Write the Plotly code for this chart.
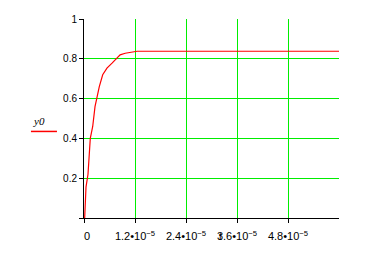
import plotly.graph_objects as go

# data
t = [0, 0.16e-6, 0.47e-6, 0.94e-6, 1.48e-6, 2.05e-6, 2.59e-6, 3.06e-6, 3.6e-6,
     4.4e-6, 5.4e-6, 6.6e-6, 7.6e-6, 8.5e-6, 9.7e-6, 1.11e-5, 1.25e-5, 6.0e-5]
y0 = [0, 0.0, 0.155, 0.22, 0.40, 0.46, 0.56, 0.61, 0.66,
      0.72, 0.753, 0.778, 0.80, 0.82, 0.828, 0.833, 0.838, 0.838]

x_tickvals = [0, 1.2e-5, 2.4e-5, 3.6e-5, 4.8e-5]
x_ticktext = ["  0", "1.2\u202210<sup>\u22125</sup>", "2.4\u202210<sup>\u22125</sup>",
              "3.6\u202210<sup>\u22125</sup>", "4.8\u202210<sup>\u22125</sup>"]
y_tickvals = [0, 0.2, 0.4, 0.6, 0.8, 1.0]
y_ticktext = ["", "0.2", "0.4", "0.6", "0.8", "1"]

fig = go.Figure()
fig.add_trace(go.Scatter(x=t, y=y0, mode="lines", name="y0",
                         line=dict(color="#ff0000", width=1.2)))

fig.update_layout(
    width=377, height=253,
    margin=dict(l=84, r=38, t=18.5, b=34.5),
    paper_bgcolor="white", plot_bgcolor="white",
    showlegend=False,
    font=dict(family="Liberation Sans, Arial", size=10, color="black"),
)
fig.update_xaxes(range=[0, 6e-5], tickvals=x_tickvals, ticktext=x_ticktext,
                 showgrid=True, gridcolor="#00ee00", gridwidth=1,
                 showline=True, linecolor="black", linewidth=1,
                 ticks="outside", ticklen=4, tickcolor="black",
                 zeroline=False, ticklabelstandoff=4, automargin=False,
                 tickfont=dict(size=11))
fig.update_yaxes(range=[0, 1], tickvals=y_tickvals, ticktext=y_ticktext,
                 showgrid=True, gridcolor="#00ee00", gridwidth=1,
                 showline=True, linecolor="black", linewidth=1,
                 ticks="outside", ticklen=4, tickcolor="black",
                 zeroline=False, automargin=False)

# legend-like label
fig.add_annotation(x=-0.208, y=0.485, xref="paper", yref="paper", text="y0",
                   xanchor="left", showarrow=False,
                   font=dict(family="Liberation Serif", size=11, style="italic"))
fig.add_shape(type="line", xref="paper", yref="paper", x0=-0.208, x1=-0.106,
              y0=0.435, y1=0.435, line=dict(color="#ff0000", width=1.5))
# axis title "t"
fig.add_annotation(x=0.537, y=-0.13, xref="paper", yref="paper", text="t",
                   showarrow=False, font=dict(size=10))

fig.write_html("out.html")
